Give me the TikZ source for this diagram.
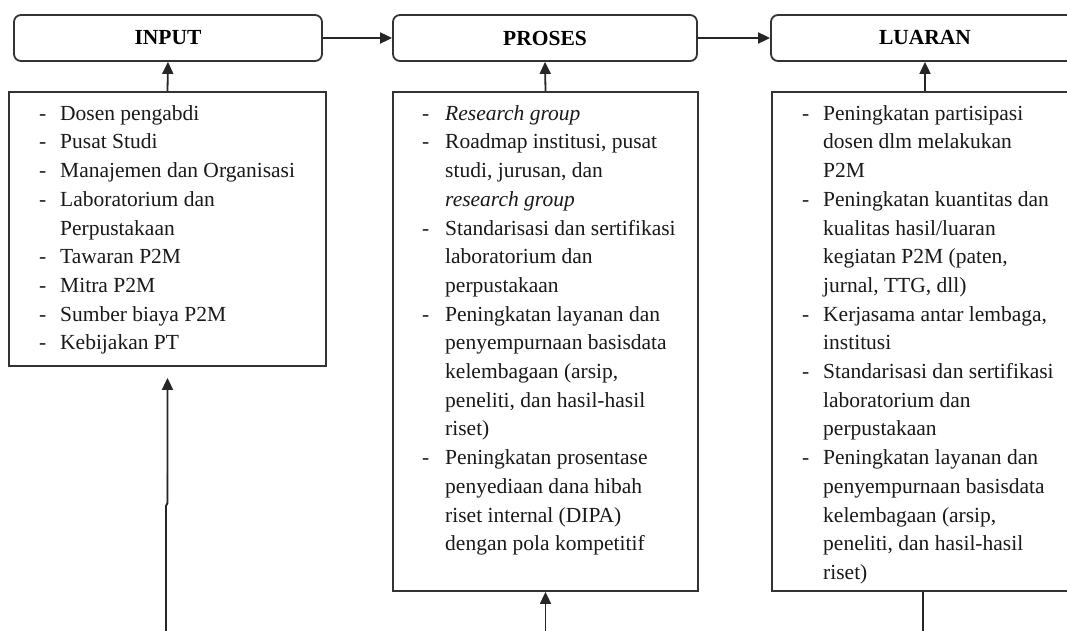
\documentclass[tikz,border=0pt]{standalone}
\usepackage{fontspec}
\setmainfont{Liberation Serif}
\usetikzlibrary{arrows.meta}
\newcommand{\dsh}{-}
\begin{document}
\begin{tikzpicture}[x=1pt,y=-1pt,
  hdr/.style={draw=black!80, line width=1.8pt, rounded corners=7pt, minimum height=46pt, inner sep=0pt, font=\fontsize{21.5}{25}\selectfont\bfseries},
  cbox/.style={draw=black!80, line width=1.8pt, inner sep=0pt},
  txt/.style={anchor=north west, inner sep=0pt, font=\fontsize{21.5}{28.7}\selectfont, text=black!90},
  arr/.style={-{Triangle[length=12pt,width=11pt]}, line width=1.8pt, draw=black!85, fill=black!85},
  lin/.style={line width=1.8pt, draw=black!85}]
\useasboundingbox (0,0) rectangle (1067,631);
\fill[white] (0,0) rectangle (1067,631);

% header boxes
\node[hdr, minimum width=308pt] (hin) at (168,38) {INPUT};
\node[hdr, minimum width=304pt] (hpr) at (545,38) {PROSES};
\node[hdr, minimum width=308pt] (hlu) at (925,38) {LUARAN};

% content boxes
\node[cbox, minimum width=317pt, minimum height=274pt] (cin) at (167.5,229) {};
\node[cbox, minimum width=305pt, minimum height=499pt] (cpr) at (545.5,341.5) {};
\node[cbox, minimum width=306pt, minimum height=499pt] (clu) at (925,341.5) {};

% texts
\node[txt] (tin) at (39,100) {\begin{tabular}{@{}p{21pt}@{}l@{}}
\dsh & Dosen pengabdi\\
\dsh & Pusat Studi\\
\dsh & Manajemen dan Organisasi\\
\dsh & Laboratorium dan\\
 & Perpustakaan\\
\dsh & Tawaran P2M\\
\dsh & Mitra P2M\\
\dsh & Sumber biaya P2M\\
\dsh & Kebijakan PT
\end{tabular}};

\node[txt] (tpr) at (422,100) {\begin{tabular}{@{}p{23pt}@{}l@{}}
\dsh & \textit{Research group}\\
\dsh & Roadmap institusi, pusat\\
 & studi, jurusan, dan\\
 & \textit{research group}\\
\dsh & Standarisasi dan sertifikasi\\
 & laboratorium dan\\
 & perpustakaan\\
\dsh & Peningkatan layanan dan\\
 & penyempurnaan basisdata\\
 & kelembagaan (arsip,\\
 & peneliti, dan hasil-hasil\\
 & riset)\\
\dsh & Peningkatan prosentase\\
 & penyediaan dana hibah\\
 & riset internal (DIPA)\\
 & dengan pola kompetitif
\end{tabular}};

\node[txt] (tlu) at (802,100) {\begin{tabular}{@{}p{21pt}@{}l@{}}
\dsh & Peningkatan partisipasi\\
 & dosen dlm melakukan\\
 & P2M\\
\dsh & Peningkatan kuantitas dan\\
 & kualitas hasil/luaran\\
 & kegiatan P2M (paten,\\
 & jurnal, TTG, dll)\\
\dsh & Kerjasama antar lembaga,\\
 & institusi\\
\dsh & Standarisasi dan sertifikasi\\
 & laboratorium dan\\
 & perpustakaan\\
\dsh & Peningkatan layanan dan\\
 & penyempurnaan basisdata\\
 & kelembagaan (arsip,\\
 & peneliti, dan hasil-hasil\\
 & riset)
\end{tabular}};

% connectors
\draw[arr] (hin) -- (hpr);
\draw[arr] (hpr) -- (hlu);
\draw[arr] (cin.north) -- (hin.south);
\draw[arr] (cpr.north) -- (hpr.south);
\draw[arr] (clu.north) -- (hlu.south);

\coordinate (inb) at (166,640);
\coordinate (injog) at (166,506);
\draw[arr] (inb) -- (injog) -- (167.5,503) -- ([yshift=-11pt]cin.south);
\coordinate (prb) at (545.5,640);
\draw[arr] (prb) -- (cpr.south);
\coordinate (lub) at (923,640);
\draw[lin] ([xshift=-2pt]clu.south) -- (lub);
\end{tikzpicture}
\end{document}
